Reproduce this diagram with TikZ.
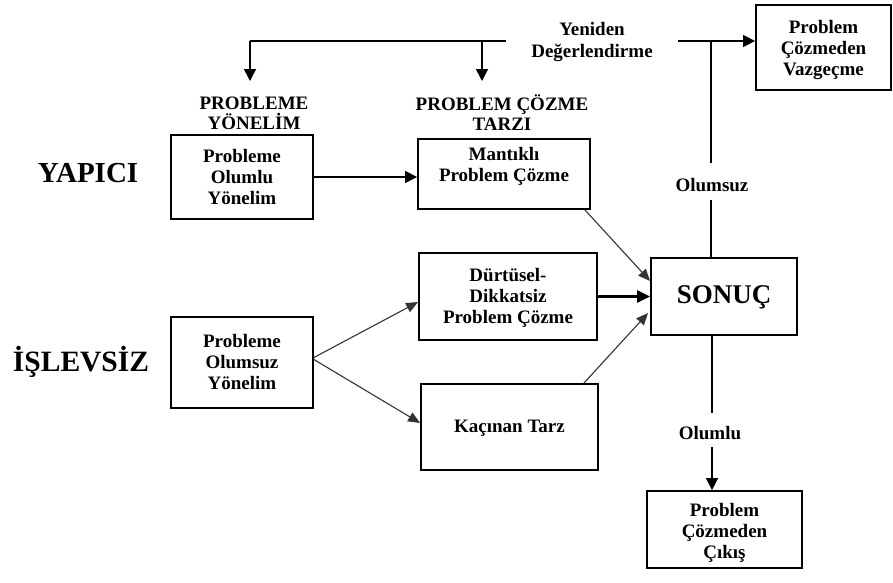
\documentclass[tikz,border=0pt]{standalone}
\usepackage{fontspec}
\setmainfont{Liberation Serif}
\usetikzlibrary{arrows.meta,calc}
\begin{document}
\begin{tikzpicture}[x=1pt,y=-1pt,
 box/.style={draw,line width=1.8pt,inner sep=0pt},
 txt/.style={font=\bfseries\fontsize{19}{21}\selectfont,align=center,inner sep=0pt},
 big/.style={font=\bfseries\fontsize{29}{34}\selectfont,inner sep=0pt},
 conn/.style={line width=1.5pt},
 arr/.style={line width=1.5pt,-{Triangle[length=12pt,width=12pt]}},
 diag/.style={line width=1.1pt,black!80,-{Triangle[length=12pt,width=10pt]}},
 thickarr/.style={line width=2.6pt,-{Triangle[length=13pt,width=12pt]}}
]
\useasboundingbox (0,0) rectangle (893,582);

% boxes
\node[box,minimum width=142pt,minimum height=84pt] (poy) at (242,177) {};
\node[box,minimum width=142pt,minimum height=91pt] (pon) at (242,362.5) {};
\node[box,minimum width=172pt,minimum height=70pt] (mpc) at (504,174) {};
\node[box,minimum width=178pt,minimum height=87pt] (dur) at (508,296.5) {};
\node[box,minimum width=177pt,minimum height=86pt] (kac) at (509.5,427) {};
\node[box,minimum width=146pt,minimum height=77pt] (son) at (724,296.5) {};
\node[box,minimum width=135pt,minimum height=85pt] (vaz) at (823.5,47.5) {};
\node[box,minimum width=155pt,minimum height=77pt] (cik) at (724.5,529.5) {};

% box texts
\node[txt] (poyt) at (242,177) {Probleme\\Olumlu\\Yönelim};
\node[txt] (pont) at (242,362) {Probleme\\Olumsuz\\Yönelim};
\node[txt] (mpct) at (504,166) {Mantıklı\\Problem Çözme};
\node[txt] (durt) at (508,298) {Dürtüsel-\\Dikkatsiz\\Problem Çözme};
\node[txt] (kact) at (509.5,428) {Kaçınan Tarz};
\node[font=\bfseries\fontsize{27}{32}\selectfont,inner sep=0pt] (sont) at (724,297) {SONUÇ};
\node[txt] (vazt) at (823.5,50) {Problem\\Çözmeden\\Vazgeçme};
\node[txt] (cikt) at (724.5,533) {Problem\\Çözmeden\\Çıkış};

% labels
\node[big] (yap) at (88,173) {YAPICI};
\node[big,font=\bfseries\fontsize{29.5}{34}\selectfont] (isl) at (81,362) {İŞLEVSİZ};
\node[txt,font=\bfseries\fontsize{19}{20}\selectfont] (h1) at (254,113) {PROBLEME\\YÖNELİM};
\node[txt,font=\bfseries\fontsize{19}{20}\selectfont] (h2) at (502,113) {PROBLEM ÇÖZME\\TARZI};
\node[txt] (yen) at (592,42) {Yeniden\\Değerlendirme};
\node[txt] (olz) at (712,185) {Olumsuz};
\node[txt] (oll) at (710,433) {Olumlu};

% coordinates
\coordinate (tl) at (250,41);
\coordinate (tm) at (482,41);
\coordinate (tr) at (506,41);
\coordinate (hl) at (250,81);
\coordinate (hm) at (482,81);
\coordinate (rl) at (678,41);
\coordinate (rj) at (711,41);
\coordinate (n1) at (711,163);
\coordinate (n2) at (711,200);
\coordinate (s1) at (712,413);
\coordinate (s2) at (712,447);

% connectors
\draw[conn] (tl) -- (tr);
\draw[arr] (tl) -- (hl);
\draw[arr] (tm) -- (hm);
\draw[arr] (rl) -- (rl -| vaz.west);
\draw[conn] (rj) -- (n1);
\draw[conn] (n2) -- (n2 |- son.north);
\draw[conn] (s1 |- son.south) -- (s1);
\draw[arr] (s2) -- (s2 |- cik.north);

\draw[arr] (poy.east) -- (poy.east -| mpc.west);
\draw[diag] ($(mpc.south east)+(-6,0)$) -- ($(son.west)+(0,-15.5)$);
\draw[thickarr] (dur.east) -- (dur.east -| son.west);
\draw[diag] ($(kac.north east)+(-15,0)$) -- ($(son.west)+(-2,16.5)$);
\draw[diag] ($(pon.east)+(0,-5)$) -- ($(dur.west)+(0,5.5)$);
\draw[diag] ($(pon.east)+(0,-3)$) -- ($(kac.west)+(0,-4)$);
\end{tikzpicture}
\end{document}
